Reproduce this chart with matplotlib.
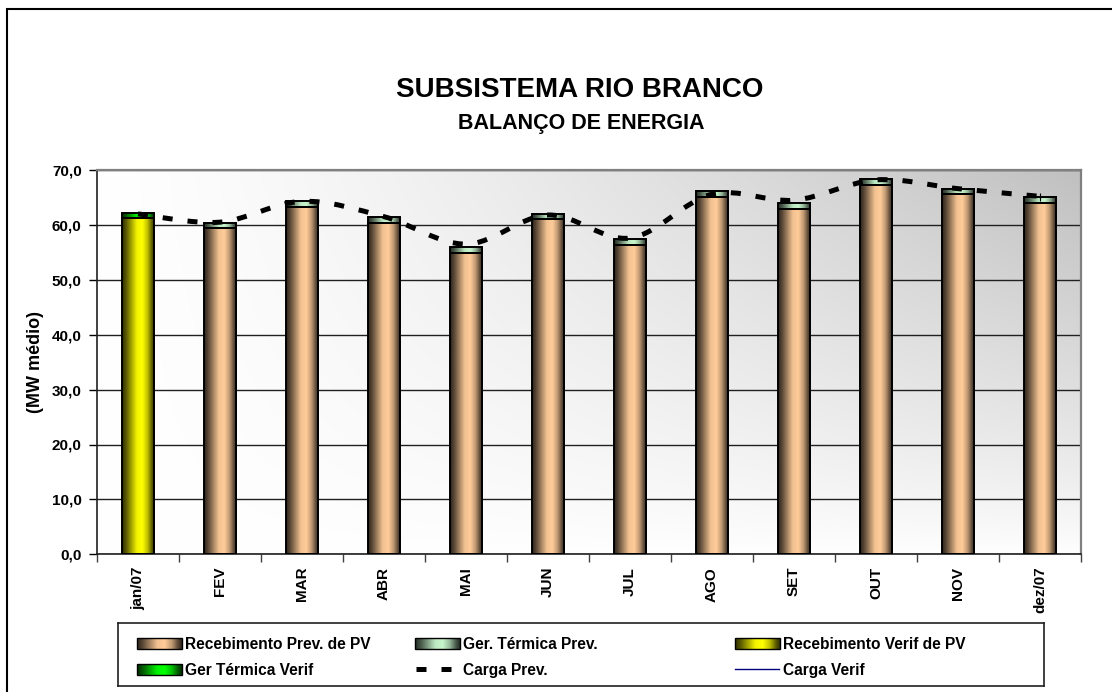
import numpy as np
import matplotlib
matplotlib.use("Agg")
import matplotlib.pyplot as plt
from matplotlib.path import Path
from matplotlib.patches import PathPatch, Rectangle
from matplotlib.ticker import FuncFormatter, MultipleLocator

plt.rcParams['font.family'] = ['Liberation Sans', 'DejaVu Sans']
plt.rcParams['font.weight'] = 'bold'

# dados
meses = ['jan/07', 'FEV', 'MAR', 'ABR', 'MAI', 'JUN', 'JUL', 'AGO', 'SET', 'OUT', 'NOV', 'dez/07']
receb_prev = [np.nan, 59.4, 63.3, 60.4, 54.9, 61.0, 56.4, 65.0, 62.9, 67.3, 65.6, 64.0]
term_prev = [np.nan, 1.0, 1.1, 1.0, 1.0, 1.0, 1.0, 1.1, 1.1, 1.1, 1.0, 1.1]
receb_verif = [61.3, np.nan, np.nan, np.nan, np.nan, np.nan, np.nan, np.nan, np.nan, np.nan, np.nan, np.nan]
term_verif = [0.9, np.nan, np.nan, np.nan, np.nan, np.nan, np.nan, np.nan, np.nan, np.nan, np.nan, np.nan]
carga_prev = [62.0, 60.5, 64.3, 61.5, 56.5, 61.8, 57.6, 65.6, 64.5, 68.2, 66.6, 65.2]
carga_verif = [62.1, np.nan, np.nan, np.nan, np.nan, np.nan, np.nan, np.nan, np.nan, np.nan, np.nan, np.nan]

cor_tan = np.array([1.0, 0.80, 0.60])
cor_vde_claro = np.array([0.78, 0.96, 0.80])
cor_amarelo = np.array([1.0, 1.0, 0.0])
cor_verde = np.array([0.0, 1.0, 0.0])


def gradiente(cor, n=64):
    # sombreamento tipo cilindro (escuro nas bordas)
    t = np.linspace(0, 1, n)
    f = np.interp(t, [0, 0.12, 0.45, 0.62, 0.78, 0.92, 1], [0.18, 0.35, 0.95, 1.0, 0.75, 0.35, 0.2])
    img = cor[None, :] * f[:, None]
    return img[None, :, :]


def pinta_barras(ax, barras, cor):
    for b in barras:
        h = b.get_height()
        if np.isnan(h) or h == 0:
            continue
        x0, y0, w = b.get_x(), b.get_y(), b.get_width()
        ax.imshow(gradiente(cor), extent=[x0, x0 + w, y0, y0 + h], aspect='auto',
                  interpolation='bilinear', zorder=2)


def caminho_suave(xs, ys):
    pts = np.column_stack([xs, ys])
    verts = [pts[0]]
    codes = [Path.MOVETO]
    n = len(pts)
    for i in range(n - 1):
        p0 = pts[i - 1] if i > 0 else pts[i]
        p1, p2 = pts[i], pts[i + 1]
        p3 = pts[i + 2] if i + 2 < n else pts[i + 1]
        verts += [p1 + (p2 - p0) / 6, p2 - (p3 - p1) / 6, p2]
        codes += [Path.CURVE4] * 3
    return Path(verts, codes)


fig = plt.figure(figsize=(11.12, 6.92), dpi=100)
ax = fig.add_axes([97 / 1112, 1 - 554.3 / 692, (1081 - 97) / 1112, (554.3 - 170) / 692])

x = np.arange(len(meses))
larg = 0.40
rp = np.nan_to_num(receb_prev)
rv = np.nan_to_num(receb_verif)

b1 = ax.bar(x, rp, larg, facecolor='none', edgecolor='black', linewidth=1.4, zorder=3)
b2 = ax.bar(x, np.nan_to_num(term_prev), larg, bottom=rp, facecolor='none', edgecolor='black', linewidth=1.4, zorder=3)
b3 = ax.bar(x, rv, larg, facecolor='none', edgecolor='black', linewidth=1.4, zorder=3)
b4 = ax.bar(x, np.nan_to_num(term_verif), larg, bottom=rv, facecolor='none', edgecolor='black', linewidth=1.4, zorder=3)
for barras, cor in [(b1, cor_tan), (b2, cor_vde_claro), (b3, cor_amarelo), (b4, cor_verde)]:
    pinta_barras(ax, barras, cor)

# linha suavizada da carga prevista
ax.add_patch(PathPatch(caminho_suave(x, carga_prev), fill=False, edgecolor='black', linewidth=3.6,
                       linestyle=(0, (2, 3)), capstyle='butt', zorder=4))
ax.plot(x, carga_verif, color='#000080', linewidth=1, zorder=4)
ax.plot(x[-1], carga_prev[-1] - 0.1, marker='+', color='black', markersize=6, mew=0.8, zorder=5)

ax.set_xlim(-0.5, len(meses) - 0.5)
ax.set_ylim(0, 70)

# fundo em degrade
gx, gy = np.meshgrid(np.linspace(0, 1, 200), np.linspace(1, 0, 200))
escuro = 63 * gx ** 1.3 * gy ** 0.8
fundo = (255 - escuro) / 255
ax.imshow(np.dstack([fundo] * 3), extent=[-0.5, len(meses) - 0.5, 0, 70], aspect='auto',
          interpolation='bilinear', zorder=0)

ax.set_axisbelow(True)
ax.yaxis.set_major_locator(MultipleLocator(10))
ax.yaxis.set_major_formatter(FuncFormatter(lambda v, p: f'{v:.1f}'.replace('.', ',')))
ax.grid(axis='y', color='#202020', linewidth=1.0, zorder=0.5)

ax.set_xticks(np.arange(-0.5, len(meses)), labels=[])
ax.set_xticks(x, labels=meses, minor=True, rotation=90)
ax.tick_params(axis='x', which='major', length=6, width=1, color='#404040')
ax.tick_params(axis='x', which='minor', length=0, pad=9, labelsize=11)
ax.tick_params(axis='y', length=6, width=1, pad=5, labelsize=11)

for lado in ['top', 'right']:
    ax.spines[lado].set_color('#808080')
    ax.spines[lado].set_linewidth(1.6)
for lado in ['left', 'bottom']:
    ax.spines[lado].set_color('#202020')
    ax.spines[lado].set_linewidth(1.2)

fig.text(36 / 1112, 1 - 362 / 692, '(MW médio)', rotation=90, ha='center', va='center', fontsize=13)
fig.text(580 / 1112, 1 - 97.3 / 692, 'SUBSISTEMA RIO BRANCO', ha='center', va='baseline', fontsize=20)
fig.text(581 / 1112, 1 - 129.3 / 692, 'BALANÇO DE ENERGIA', ha='center', va='baseline', fontsize=15.5)

# borda externa
fig.add_artist(Rectangle((7 / 1112, -0.1), 1.2, 1.1 - 9 / 692, transform=fig.transFigure,
                         fill=False, edgecolor='black', linewidth=1.5))

# legenda desenhada em eixo proprio
lg = fig.add_axes([118 / 1112, 1 - 686 / 692, 926 / 1112, 63 / 692])
lg.set_xlim(0, 926)
lg.set_ylim(0, 63)
lg.set_xticks([])
lg.set_yticks([])
for s in lg.spines.values():
    s.set_color('#202020')
    s.set_linewidth(1.2)

itens = [
    ('Recebimento Prev. de PV', 'bar', cor_tan, 19, 43),
    ('Ger. Térmica Prev.', 'bar', cor_vde_claro, 297, 43),
    ('Recebimento Verif de PV', 'bar', cor_amarelo, 617, 43),
    ('Ger Térmica Verif', 'bar', cor_verde, 19, 17),
    ('Carga Prev.', 'dash', None, 297, 17),
    ('Carga Verif', 'line', None, 617, 17),
]
for rotulo, tipo, cor, lx, ly in itens:
    if tipo == 'bar':
        lg.imshow(gradiente(cor), extent=[lx, lx + 45, ly - 5.5, ly + 5.5], aspect='auto', interpolation='bilinear')
        lg.add_patch(Rectangle((lx, ly - 5.5), 45, 11, fill=False, edgecolor='black', linewidth=1))
    elif tipo == 'dash':
        lg.plot([lx + 1, lx + 43], [ly, ly], color='black', linewidth=3.6, linestyle=(0, (2, 3)), solid_capstyle='butt')
    else:
        lg.plot([lx, lx + 44], [ly, ly], color='#000080', linewidth=1)
    lg.text(lx + 48, ly, rotulo, va='center_baseline', ha='left', fontsize=11.2)
lg.set_xlim(0, 926)
lg.set_ylim(0, 63)

fig.savefig('out.png', dpi=100)
